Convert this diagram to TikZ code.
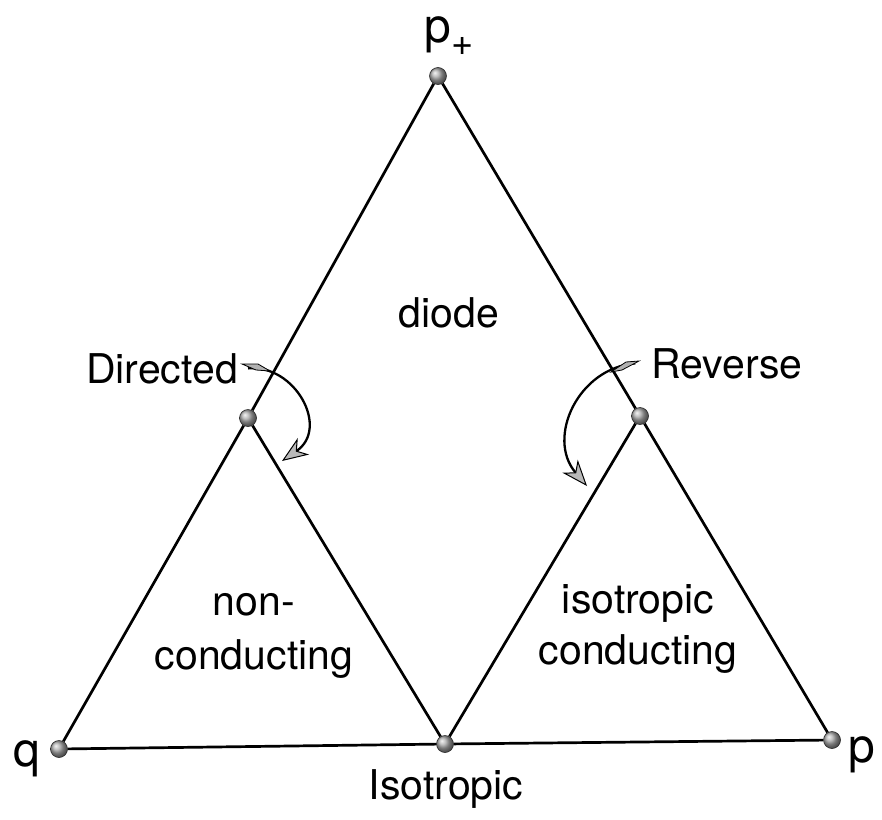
\documentclass[tikz,border=0pt]{standalone}
\usepackage{fontspec}
\setmainfont{TeX Gyre Heros}
\usetikzlibrary{arrows.meta}
\begin{document}
\begin{tikzpicture}[x=1pt,y=-1pt,
  vtx/.style={circle,inner sep=0pt,minimum size=17pt,draw=black!85,line width=0.6pt,ball color=gray!65},
  edge/.style={line width=2.7pt},
  lbl/.style={font=\fontsize{41}{44}\selectfont,inner sep=0pt,anchor=base},
  big/.style={font=\fontsize{48}{48}\selectfont,inner sep=0pt,anchor=base},
  turn/.style={line width=2.3pt,-{Stealth[length=26pt,width=20pt,inset=8pt,line width=1pt,fill=gray!55]}},
  tailbit/.style={fill=gray!60,draw=black,line width=0.8pt}]
\useasboundingbox (0,0) rectangle (882,819);
% vertices
\node[vtx] (pp) at (438,76) {};
\node[vtx] (lm) at (248,418) {};
\node[vtx] (rm) at (640,416) {};
\node[vtx] (q)  at (59,749) {};
\node[vtx] (m)  at (445,744) {};
\node[vtx] (p)  at (832,740) {};
% edges
\draw[edge] (pp) -- (lm) -- (q) -- (m) -- (p) -- (rm) -- (pp);
\draw[edge] (lm) -- (m) -- (rm);
% vertex labels
\node[big] (lpp) at (449,42) {p\raisebox{-13pt}{\fontsize{38}{38}\selectfont +}};
\node[big] (lq) at (27,766) {q};
\node[big] (lp) at (862,762) {p};
\node[lbl] (liso) at (446,799) {Isotropic};
% region labels
\node[lbl] (ldiode) at (449,327) {diode};
\node[lbl] (ln1) at (254,615) {non-};
\node[lbl] (ln2) at (254,669) {conducting};
\node[lbl] (li1) at (638,613) {isotropic};
\node[lbl] (li2) at (638,664) {conducting};
% transition labels and arrows
\node[lbl] (dir) at (162,383) {Directed};
\node[lbl] (rev) at (727,378) {Reverse};
\coordinate (dtip) at (282,461);
\coordinate (rtip) at (587,486);
\draw[turn] ([xshift=10pt]dir.east) .. controls (295,364) and (330,428) .. (dtip);
\draw[turn] ([xshift=-16pt]rev.west) .. controls (578,368) and (546,438) .. (rtip);
% tapered tails
\path[tailbit] (242,364) -- (258,364) -- (270,371) -- (256,370) -- cycle;
\path[tailbit] (639,361) -- (626,362) -- (611,372) -- (622,370) -- cycle;
\end{tikzpicture}
\end{document}
